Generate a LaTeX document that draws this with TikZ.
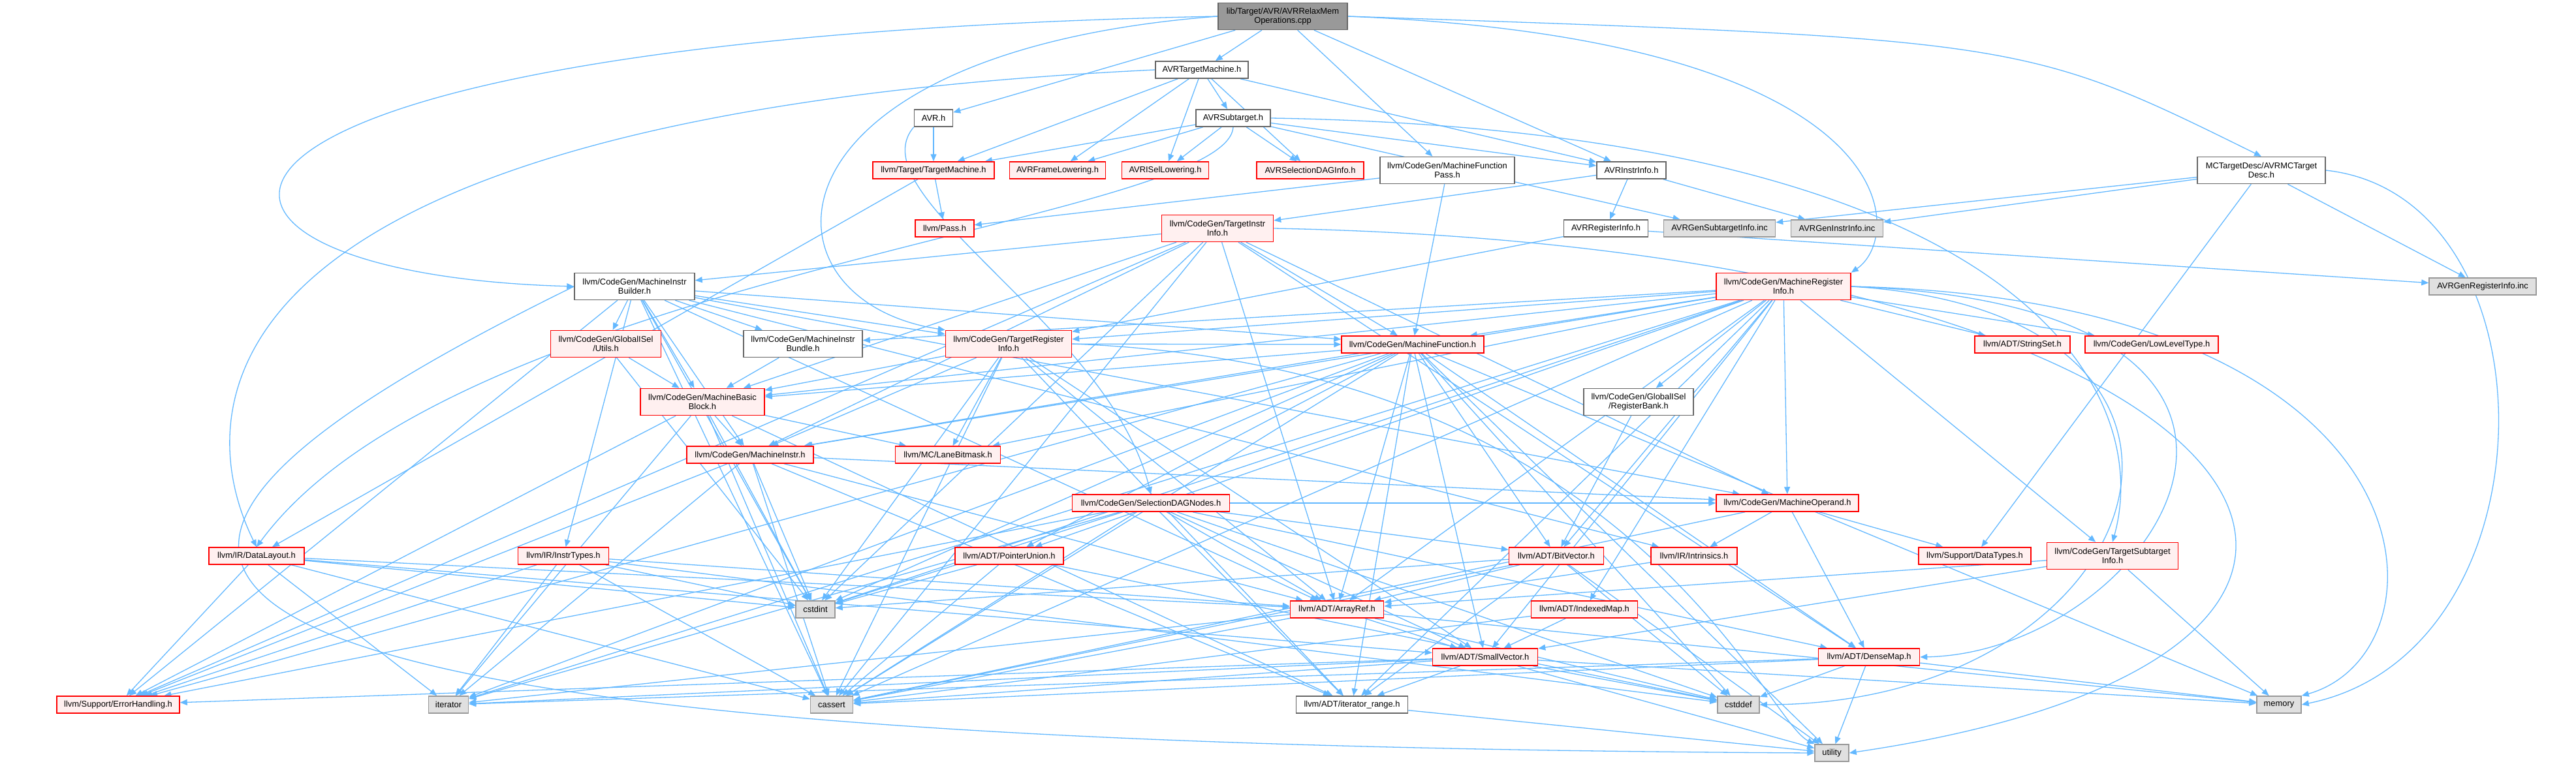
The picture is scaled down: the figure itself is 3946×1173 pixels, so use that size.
\documentclass[tikz,border=0pt]{standalone}
\usepackage{fontspec}
\setmainfont{Liberation Sans}
\usetikzlibrary{arrows.meta, backgrounds}
\definecolor{edgeblue}{HTML}{63B8FF}
\definecolor{redfill}{HTML}{FFF0F0}
\definecolor{grayfill}{HTML}{E0E0E0}
\definecolor{grayline}{HTML}{999999}
\definecolor{darkline}{HTML}{666666}
\definecolor{mainfill}{HTML}{999999}

\tikzset{
  filebox/.style={rectangle, line width=1.5pt, align=center, inner sep=2pt,
    minimum height=26, font=\fontsize{12.9}{14.5}\selectfont},
  redbox/.style={filebox, draw=red, fill=redfill},
  whitebox/.style={filebox, draw=darkline, fill=white},
  graybox/.style={filebox, draw=grayline, fill=grayfill},
  mainbox/.style={filebox, draw=darkline, fill=mainfill},
  twoline/.style={minimum height=41},
  incl/.style={draw=edgeblue, line width=1.3pt, -{Triangle[length=11pt,width=9pt]}}
}

\begin{document}
\begin{tikzpicture}[x=1pt, y=-1pt]
\useasboundingbox (0,0) rectangle (3946,1173);

% top rows
\node[mainbox, twoline, minimum width=198] (main) at (1965,25) {lib/Target/AVR/AVRRelaxMem\\Operations.cpp};
\node[whitebox, minimum width=142] (avrtm) at (1841,107) {AVRTargetMachine.h};
\node[whitebox, minimum width=59] (avrh) at (1430,181) {AVR.h};
\node[whitebox, minimum width=114] (avrsub) at (1889,181) {AVRSubtarget.h};
\node[redbox, minimum width=186] (tgtm) at (1430,261) {llvm/Target/TargetMachine.h};
\node[redbox, minimum width=147] (frame) at (1620,261) {AVRFrameLowering.h};
\node[redbox, minimum width=133] (isel) at (1785,261) {AVRISelLowering.h};
\node[redbox, minimum width=164] (seldag) at (2007,261) {AVRSelectionDAGInfo.h};
\node[whitebox, twoline, minimum width=206] (mfpass) at (2217,261) {llvm/CodeGen/MachineFunction\\Pass.h};
\node[whitebox, minimum width=106] (avrinstr) at (2499,261) {AVRInstrInfo.h};
\node[whitebox, twoline, minimum width=196] (mcdesc) at (3464,261) {MCTargetDesc/AVRMCTarget\\Desc.h};
\node[redbox, minimum width=90] (pass) at (1447,350) {llvm/Pass.h};
\node[redbox, twoline, minimum width=171] (tii) at (1865,350) {llvm/CodeGen/TargetInstr\\Info.h};
\node[whitebox, minimum width=129] (avrreg) at (2460,350) {AVRRegisterInfo.h};
\node[graybox, minimum width=171] (gensub) at (2634,350) {AVRGenSubtargetInfo.inc};
\node[graybox, minimum width=141] (geninstr) at (2814,350) {AVRGenInstrInfo.inc};

% middle rows
\node[whitebox, twoline, minimum width=184] (mib) at (972,439) {llvm/CodeGen/MachineInstr\\Builder.h};
\node[redbox, twoline, minimum width=206] (mri) at (2732,439) {llvm/CodeGen/MachineRegister\\Info.h};
\node[graybox, minimum width=164] (genreg) at (3803,439) {AVRGenRegisterInfo.inc};
\node[redbox, twoline, minimum width=169] (gisutils) at (928,527) {llvm/CodeGen/GlobalISel\\/Utils.h};
\node[whitebox, twoline, minimum width=182] (bundle) at (1230,527) {llvm/CodeGen/MachineInstr\\Bundle.h};
\node[redbox, twoline, minimum width=193] (tri) at (1545,527) {llvm/CodeGen/TargetRegister\\Info.h};
\node[redbox, minimum width=218] (mf) at (2164,528) {llvm/CodeGen/MachineFunction.h};
\node[redbox, minimum width=146] (strset) at (3098,528) {llvm/ADT/StringSet.h};
\node[redbox, minimum width=204] (llt) at (3296,528) {llvm/CodeGen/LowLevelType.h};
\node[redbox, twoline, minimum width=190] (mbb) at (1076,616) {llvm/CodeGen/MachineBasic\\Block.h};
\node[whitebox, twoline, minimum width=168] (regbank) at (2510,616) {llvm/CodeGen/GlobalISel\\/RegisterBank.h};
\node[redbox, minimum width=194] (minstr) at (1149,697) {llvm/CodeGen/MachineInstr.h};
\node[redbox, minimum width=161] (lanebm) at (1452,697) {llvm/MC/LaneBitmask.h};
\node[redbox, minimum width=241] (sdnodes) at (1763,771) {llvm/CodeGen/SelectionDAGNodes.h};
\node[redbox, minimum width=218] (mop) at (2738,771) {llvm/CodeGen/MachineOperand.h};

% lower rows
\node[redbox, minimum width=146] (datalayout) at (393,852) {llvm/IR/DataLayout.h};
\node[redbox, minimum width=139] (instrtypes) at (863,852) {llvm/IR/InstrTypes.h};
\node[redbox, minimum width=166] (ptrunion) at (1546,852) {llvm/ADT/PointerUnion.h};
\node[redbox, minimum width=145] (bitvec) at (2384,852) {llvm/ADT/BitVector.h};
\node[redbox, minimum width=132] (intrin) at (2595,852) {llvm/IR/Intrinsics.h};
\node[redbox, minimum width=172] (datatypes) at (3025,852) {llvm/Support/DataTypes.h};
\node[redbox, twoline, minimum width=201] (tsi) at (3236,852) {llvm/CodeGen/TargetSubtarget\\Info.h};
\node[graybox, minimum width=60] (cstdint) at (1249,934) {cstdint};
\node[redbox, minimum width=143] (arrayref) at (2048,934) {llvm/ADT/ArrayRef.h};
\node[redbox, minimum width=163] (indexedmap) at (2427,934) {llvm/ADT/IndexedMap.h};
\node[redbox, minimum width=161] (smallvec) at (2275,1007) {llvm/ADT/SmallVector.h};
\node[redbox, minimum width=155] (densemap) at (2863,1007) {llvm/ADT/DenseMap.h};
\node[redbox, minimum width=188] (errh) at (181,1080) {llvm/Support/ErrorHandling.h};
\node[graybox, minimum width=61] (iterator) at (687,1080) {iterator};
\node[graybox, minimum width=65] (cassert) at (1274,1080) {cassert};
\node[whitebox, minimum width=171] (itrange) at (2071,1080) {llvm/ADT/iterator\_range.h};
\node[graybox, minimum width=64] (cstddef) at (2663,1080) {cstddef};
\node[graybox, minimum width=68] (memory) at (3491,1080) {memory};
\node[graybox, minimum width=52] (utility) at (2806,1154) {utility};

\begin{scope}[on background layer]
% straight includes
\foreach \t in {avrh,avrtm,mfpass,avrinstr} \draw[incl] (main) -- (\t);
\foreach \t in {tgtm,frame,isel,avrsub,seldag,avrinstr} \draw[incl] (avrtm) -- (\t);
\draw[incl] (avrh) -- (tgtm);
\foreach \t in {tgtm,frame,isel,seldag,avrinstr,gensub} \draw[incl] (avrsub) -- (\t);
\foreach \t in {pass,datalayout} \draw[incl] (tgtm) -- (\t);
\foreach \t in {pass,mf} \draw[incl] (mfpass) -- (\t);
\foreach \t in {avrreg,geninstr,tii} \draw[incl] (avrinstr) -- (\t);
\foreach \t in {tri,genreg} \draw[incl] (avrreg) -- (\t);
\foreach \t in {gensub,geninstr,genreg,datatypes} \draw[incl] (mcdesc) -- (\t);
\foreach \t in {mib,mbb,mf,minstr,mop,arrayref,densemap,errh,cassert,cstdint} \draw[incl] (tii) -- (\t);
\foreach \t in {gisutils,bundle,tri,mbb,mf,minstr,mop,instrtypes,intrin,arrayref,errh,cassert,cstdint} \draw[incl] (mib) -- (\t);
\foreach \t in {mbb,cstdint} \draw[incl] (gisutils) -- (\t);
\draw[incl] (bundle) -- (mbb);
\foreach \t in {mbb,lanebm,minstr,arrayref,smallvec,itrange,cassert,cstdint,mf} \draw[incl] (tri) -- (\t);
\foreach \t in {minstr,lanebm,errh,cassert,iterator,itrange,cstdint} \draw[incl] (mbb) -- (\t);
\foreach \t in {mop,arrayref,itrange,cassert,cstdint,errh,iterator} \draw[incl] (minstr) -- (\t);
\foreach \t in {mbb,minstr,arrayref,bitvec,densemap,smallvec,itrange,cassert,cstddef,cstdint,memory,utility,errh,iterator,ptrunion} \draw[incl] (mf) -- (\t);
\foreach \t in {mbb,mf,minstr,bundle,mop,tri,tsi,regbank,llt,strset,lanebm,arrayref,bitvec,indexedmap,ptrunion,smallvec,itrange,cassert,cstdint,iterator} \draw[incl] (mri) -- (\t);
\foreach \t in {arrayref,bitvec,smallvec,itrange,cassert,cstddef,cstdint,iterator,errh,mop,densemap} \draw[incl] (sdnodes) -- (\t);
\draw[incl] (regbank) -- (bitvec);
\foreach \t in {datatypes,densemap,intrin,cassert} \draw[incl] (mop) -- (\t);
\foreach \t in {arrayref,smallvec,errh,cassert,cstdint,iterator} \draw[incl] (datalayout) -- (\t);
\foreach \t in {errh,iterator,arrayref,cassert,cstdint,cstddef} \draw[incl] (instrtypes) -- (\t);
\foreach \t in {cassert,cstdint,cstddef} \draw[incl] (ptrunion) -- (\t);
\foreach \t in {arrayref,itrange,cassert,cstdint,cstddef,utility} \draw[incl] (bitvec) -- (\t);
\draw[incl] (intrin) -- (arrayref);
\foreach \t in {arrayref,smallvec,memory} \draw[incl] (tsi) -- (\t);
\foreach \t in {smallvec,cassert,cstddef,iterator,memory} \draw[incl] (arrayref) -- (\t);
\foreach \t in {smallvec,cassert} \draw[incl] (indexedmap) -- (\t);
\foreach \t in {cassert,cstddef,iterator,memory,utility,errh,itrange} \draw[incl] (smallvec) -- (\t);
\foreach \t in {cassert,cstddef,utility,memory,iterator} \draw[incl] (densemap) -- (\t);
\draw[incl] (itrange) -- (utility);
% routed includes
\draw[incl] (main.west) .. controls (150,60) and (180,420) .. (mib.west);
\draw[incl] (main.west) .. controls (1150,80) and (1150,460) .. (tri.north west);
\draw[incl] (main.east) .. controls (2920,60) and (2920,360) .. (mri.north east);
\draw[incl] (main.east) .. controls (3100,60) .. (mcdesc.north);
\draw[incl] (avrtm.west) .. controls (250,180) and (300,650) .. (datalayout.north);
\draw[incl] (avrsub.south) .. controls (1880,340) and (700,420) .. (datalayout.north);
\draw[incl] (avrsub.east) .. controls (3100,200) and (3300,600) .. (tsi.north);
\draw[incl] (avrh.south west) .. controls (1310,300) and (1700,500) .. (sdnodes.north);
\draw[incl] (mcdesc.east) .. controls (3920,300) and (3920,1000) .. (memory.east);
\draw[incl] (mib.west) .. controls (-20,880) and (60,1140) .. (utility.west);
\draw[incl] (tii.east) .. controls (3500,380) and (3880,1000) .. (utility.east);
\draw[incl] (mri.east) .. controls (3750,460) and (3760,1000) .. (memory.north east);
\draw[incl] (mri.east) .. controls (3650,470) and (3300,1000) .. (densemap.east);
\draw[incl] (mri.east) .. controls (3500,480) and (3300,1080) .. (cstddef.east);
\draw[incl] (tri.east) .. controls (2500,560) and (2700,1100) .. (utility.north west);
\end{scope}
\end{tikzpicture}
\end{document}
